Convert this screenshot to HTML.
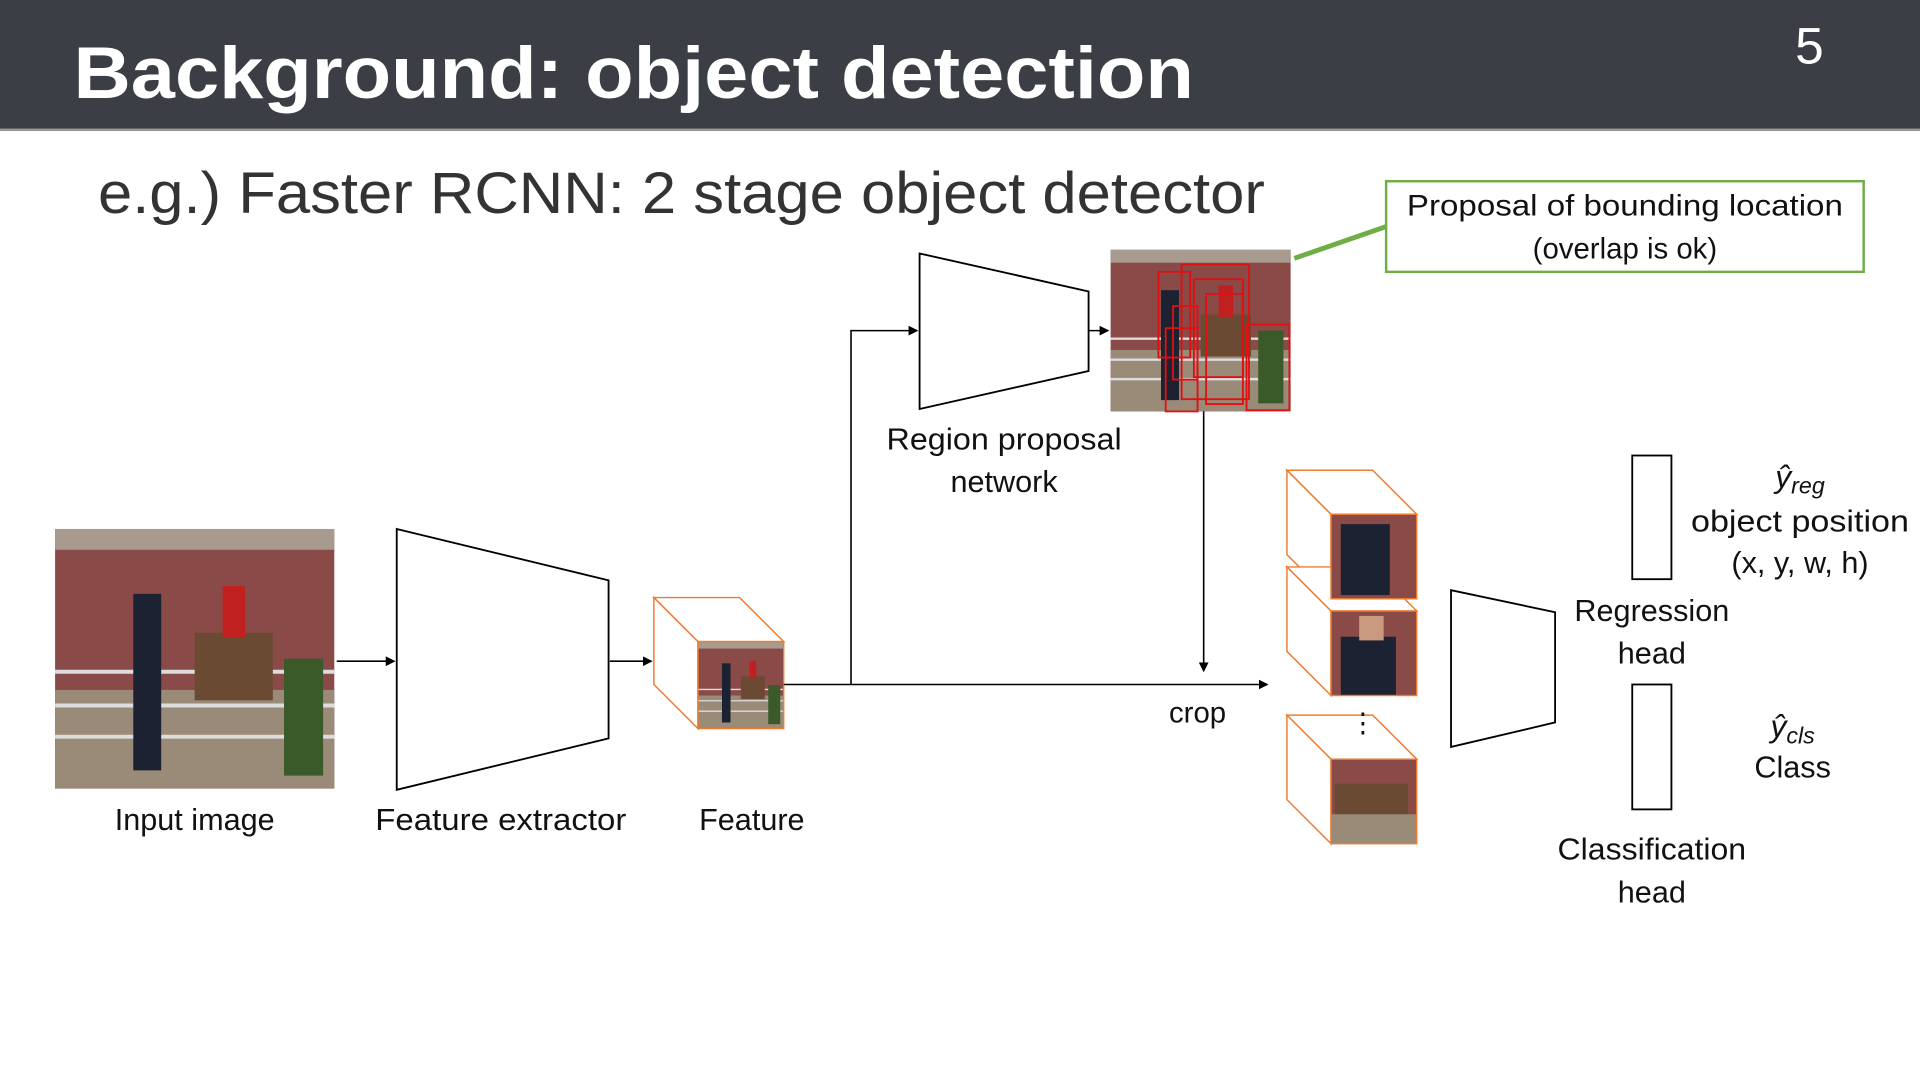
<!DOCTYPE html>
<html><head><meta charset="utf-8"><style>
html,body{margin:0;padding:0;background:#fff;overflow:hidden}
svg{display:block}
text{font-family:"Liberation Sans",sans-serif;fill:#111}
</style></head><body>
<svg width="1920" height="1080" viewBox="0 0 1568 882" xmlns="http://www.w3.org/2000/svg">
<defs>
<marker id="ar" markerWidth="8" markerHeight="8" refX="7" refY="4" orient="auto" markerUnits="userSpaceOnUse"><path d="M0,0 L8,4 L0,8 z" fill="#000"/></marker>
<g id="photo">
<rect width="100" height="100" fill="#8a4a48"/>
<rect y="0" width="100" height="8" fill="#a89a8e"/>
<rect y="62" width="100" height="38" fill="#9a8a78"/>
<g stroke="#ddd" stroke-width="1.5"><line x1="0" y1="55" x2="100" y2="55"/><line x1="0" y1="68" x2="100" y2="68"/><line x1="0" y1="80" x2="100" y2="80"/></g>
<rect x="28" y="25" width="10" height="68" fill="#1d2233"/>
<rect x="50" y="40" width="28" height="26" fill="#6b4a33"/>
<rect x="60" y="22" width="8" height="20" fill="#c02020"/>
<rect x="82" y="50" width="14" height="45" fill="#3a5a2a"/>
</g>
</defs>
<rect x="0" y="0" width="1568" height="107" fill="#3b3e45"/>
<rect x="0" y="105" width="1568" height="2" fill="#9a9a9a"/>
<text x="60" y="80" font-size="60" font-weight="bold" style="fill:#fff" textLength="915" lengthAdjust="spacingAndGlyphs">Background: object detection</text>
<text x="1466" y="52" font-size="42" style="fill:#fff">5</text>
<text x="80" y="174" font-size="48" style="fill:#333" textLength="953" lengthAdjust="spacingAndGlyphs">e.g.) Faster RCNN: 2 stage object detector</text>
<rect x="1132" y="148" width="390" height="74" fill="#fff" stroke="#70ad47" stroke-width="2"/>
<line x1="1057" y1="211" x2="1132" y2="185" stroke="#70ad47" stroke-width="4"/>
<text x="1327" y="176" font-size="24" text-anchor="middle" textLength="356" lengthAdjust="spacingAndGlyphs">Proposal of bounding location</text>
<text x="1327" y="211" font-size="24" text-anchor="middle">(overlap is ok)</text>
<use href="#photo" transform="translate(45,432) scale(2.28,2.12)"/>
<text x="159" y="678" font-size="25" text-anchor="middle">Input image</text>
<line x1="275" y1="540" x2="322" y2="540" stroke="#000" stroke-width="1.3" marker-end="url(#ar)"/>
<polygon points="324,432 497,474 497,603 324,645" fill="#fff" stroke="#000" stroke-width="1.5"/>
<text x="409" y="678" font-size="25" text-anchor="middle" textLength="205" lengthAdjust="spacingAndGlyphs">Feature extractor</text>
<line x1="498" y1="540" x2="532" y2="540" stroke="#000" stroke-width="1.3" marker-end="url(#ar)"/>
<g stroke="#ed7d31" stroke-width="1.2" fill="#fff">
<polygon points="534,488 604,488 640,524 570,524"/>
<polygon points="534,488 570,524 570,595 534,559"/>
</g>
<use href="#photo" transform="translate(570,524) scale(0.7,0.71)"/>
<rect x="570" y="524" width="70" height="71" fill="none" stroke="#ed7d31" stroke-width="1.2"/>
<text x="614" y="678" font-size="25" text-anchor="middle">Feature</text>
<line x1="640" y1="559" x2="1035" y2="559" stroke="#000" stroke-width="1.3" marker-end="url(#ar)"/>
<polyline points="695,559 695,270 749,270" fill="none" stroke="#000" stroke-width="1.3" marker-end="url(#ar)"/>
<polygon points="751,207 889,238 889,303 751,334" fill="#fff" stroke="#000" stroke-width="1.5"/>
<text x="820" y="367" font-size="25" text-anchor="middle" textLength="192" lengthAdjust="spacingAndGlyphs">Region proposal</text>
<text x="820" y="402" font-size="25" text-anchor="middle">network</text>
<line x1="889" y1="270" x2="905" y2="270" stroke="#000" stroke-width="1.3" marker-end="url(#ar)"/>
<use href="#photo" transform="translate(907,204) scale(1.47,1.32)"/>
<g fill="none" stroke="#e01010" stroke-width="1.5">
<rect x="946" y="222" width="26" height="70"/><rect x="952" y="268" width="26" height="68"/>
<rect x="965" y="216" width="55" height="110"/><rect x="975" y="228" width="40" height="80"/>
<rect x="958" y="250" width="20" height="60"/><rect x="1018" y="265" width="35" height="70"/>
<rect x="985" y="240" width="30" height="90"/>
</g>
<line x1="983" y1="336" x2="983" y2="548" stroke="#000" stroke-width="1.3" marker-end="url(#ar)"/>
<text x="978" y="590" font-size="24" text-anchor="middle">crop</text>
<g stroke="#ed7d31" stroke-width="1.2" fill="#fff">
<polygon points="1051,384 1121,384 1157,420 1087,420"/><polygon points="1051,384 1087,420 1087,489 1051,453"/>
<polygon points="1051,463 1121,463 1157,499 1087,499"/><polygon points="1051,463 1087,499 1087,568 1051,532"/>
<polygon points="1051,584 1121,584 1157,620 1087,620"/><polygon points="1051,584 1087,620 1087,689 1051,653"/>
</g>
<rect x="1087" y="420" width="70" height="69" fill="#8a4a48"/><rect x="1095" y="428" width="40" height="58" fill="#1d2233"/>
<rect x="1087" y="499" width="70" height="69" fill="#8a4a48"/><rect x="1095" y="520" width="45" height="48" fill="#1d2233"/><rect x="1110" y="503" width="20" height="20" fill="#c99a80"/>
<rect x="1087" y="620" width="70" height="69" fill="#8a4a48"/><rect x="1090" y="640" width="60" height="40" fill="#6b4a33"/><rect x="1087" y="665" width="70" height="24" fill="#9a8a78"/>
<g fill="none" stroke="#ed7d31" stroke-width="1.2"><rect x="1087" y="420" width="70" height="69"/><rect x="1087" y="499" width="70" height="69"/><rect x="1087" y="620" width="70" height="69"/></g>
<text x="1113" y="598" font-size="22" text-anchor="middle">⋮</text>
<polygon points="1185,482 1270,500 1270,590 1185,610" fill="#fff" stroke="#000" stroke-width="1.5"/>
<text x="1349" y="507" font-size="25" text-anchor="middle">Regression</text>
<text x="1349" y="542" font-size="25" text-anchor="middle">head</text>
<text x="1349" y="702" font-size="25" text-anchor="middle" textLength="154" lengthAdjust="spacingAndGlyphs">Classification</text>
<text x="1349" y="737" font-size="25" text-anchor="middle">head</text>
<rect x="1333" y="372" width="32" height="101" fill="#fff" stroke="#000" stroke-width="1.5"/>
<rect x="1333" y="559" width="32" height="102" fill="#fff" stroke="#000" stroke-width="1.5"/>
<text x="1470" y="398" font-size="26" text-anchor="middle" font-style="italic" font-family="Liberation Serif">ŷ<tspan font-size="19" dy="5">reg</tspan></text>
<text x="1470" y="434" font-size="25" text-anchor="middle" textLength="178" lengthAdjust="spacingAndGlyphs">object position</text>
<text x="1470" y="468" font-size="25" text-anchor="middle">(x, y, w, h)</text>
<text x="1464" y="602" font-size="26" text-anchor="middle" font-style="italic" font-family="Liberation Serif">ŷ<tspan font-size="19" dy="5">cls</tspan></text>
<text x="1464" y="635" font-size="25" text-anchor="middle">Class</text>
</svg>
</body></html>
